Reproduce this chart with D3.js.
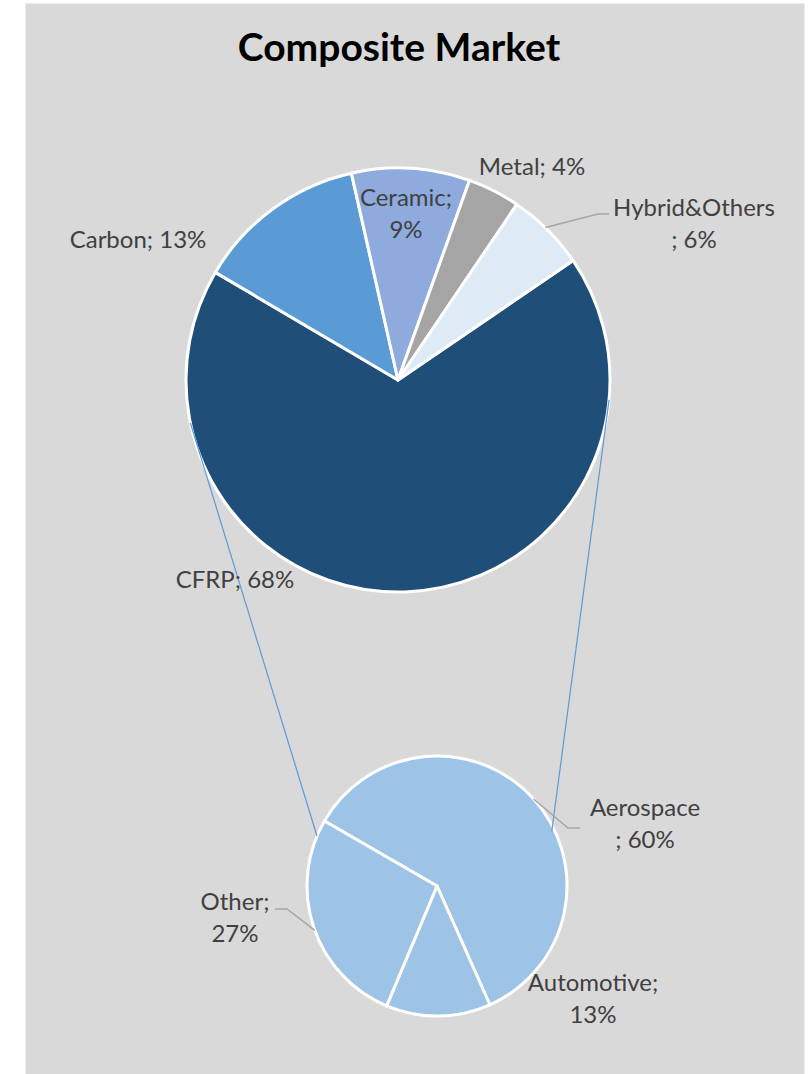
<!DOCTYPE html>
<html>
<head>
<meta charset="utf-8">
<script src="https://cdn.jsdelivr.net/npm/d3@7"></script>
<style>
html,body{margin:0;padding:0;background:#fff;}
svg{display:block;}
</style>
</head>
<body>
<svg id="chart" width="808" height="1074"></svg>
<script>
// ---- data ----
const mainCategories = ["CFRP", "Carbon", "Ceramic", "Metal", "Hybrid&Others"];
const mainValues = [68, 13, 9, 4, 6];
const mainColors = ["#1f4e79", "#5b9bd5", "#8faadc", "#a5a5a5", "#deebf7"];
const subCategories = ["Aerospace", "Automotive", "Other"];
const subValues = [60, 13, 27];
const subColor = "#9dc3e6";
const titleText = "Composite Market";

const deg = Math.PI / 180;
const svg = d3.select("#chart");

svg.append("rect").attr("x", 25.5).attr("y", 3.5).attr("width", 779).attr("height", 1072)
  .attr("fill", "#d9d9d9").attr("stroke", "#ececec").attr("stroke-width", 1);

svg.append("text").attr("x", 399).attr("y", 61).attr("text-anchor", "middle")
  .attr("font-family", "Lato, 'Open Sans', sans-serif").attr("font-weight", "bold")
  .attr("font-size", 39).attr("fill", "#000").text(titleText);

// main pie
const mc = {x: 398, y: 380}, mr = 212;
const mainPie = d3.pie().sort(null).value(d => d).startAngle(55.7 * deg).endAngle(55.7 * deg + 2 * Math.PI);
const mainArcs = mainPie(mainValues);
const mainArc = d3.arc().innerRadius(0).outerRadius(mr);
const gMain = svg.append("g").attr("transform", `translate(${mc.x},${mc.y})`);
gMain.selectAll("path").data(mainArcs).join("path")
  .attr("d", mainArc).attr("fill", (d, i) => mainColors[i])
  .attr("stroke", "#fff").attr("stroke-width", 3).attr("stroke-linejoin", "round");

// sub pie
const sc = {x: 437, y: 886}, sr = 130;
const subPie = d3.pie().sort(null).value(d => d).startAngle(-60 * deg).endAngle(300 * deg);
const subArcs = subPie(subValues);
const subArc = d3.arc().innerRadius(0).outerRadius(sr);
const gSub = svg.append("g").attr("transform", `translate(${sc.x},${sc.y})`);
gSub.selectAll("path").data(subArcs).join("path")
  .attr("d", subArc).attr("fill", subColor)
  .attr("stroke", "#fff").attr("stroke-width", 3).attr("stroke-linejoin", "round");

// connector lines
function pt(c, r, a) { return [c.x + r * Math.sin(a * deg), c.y - r * Math.cos(a * deg)]; }
const connectors = [[pt(mc, mr, 258.3), pt(sc, sr, 292.6)], [pt(mc, mr, 95.4), pt(sc, sr - 3, 64.6)]];
svg.append("g").selectAll("line").data(connectors).join("line")
  .attr("x1", d => d[0][0]).attr("y1", d => d[0][1])
  .attr("x2", d => d[1][0]).attr("y2", d => d[1][1])
  .attr("stroke", "#5b9bd5").attr("stroke-width", 1.2);

// leader lines
const leaders = [
  [pt(mc, mr, 44), [598, 214], [609, 214]],
  [pt(sc, sr, 48), [568, 828], [580, 828]],
  [pt(sc, sr, 250), [287, 909], [275, 909]]
];
svg.append("g").selectAll("polyline").data(leaders).join("polyline")
  .attr("points", d => d.map(p => p.join(",")).join(" "))
  .attr("fill", "none").attr("stroke", "#a6a6a6").attr("stroke-width", 1.5);

// labels
const labels = [
  {lines: ["Ceramic;", "9%"], x: 406, y: 206},
  {lines: ["Metal; 4%"], x: 532, y: 175},
  {lines: ["Hybrid&Others", "; 6%"], x: 694, y: 216},
  {lines: ["Carbon; 13%"], x: 138, y: 248},
  {lines: ["CFRP; 68%"], x: 235, y: 588},
  {lines: ["Aerospace", "; 60%"], x: 645, y: 816},
  {lines: ["Other;", "27%"], x: 235, y: 910},
  {lines: ["Automotive;", "13%"], x: 593, y: 991}
];
const gl = svg.append("g").attr("font-family", "Lato, 'Open Sans', sans-serif")
  .attr("font-size", 24).attr("fill", "#404040").attr("text-anchor", "middle");
labels.forEach(l => {
  l.lines.forEach((t, i) => {
    gl.append("text").attr("x", l.x).attr("y", l.y + i * 32).text(t);
  });
});
</script>
</body>
</html>
